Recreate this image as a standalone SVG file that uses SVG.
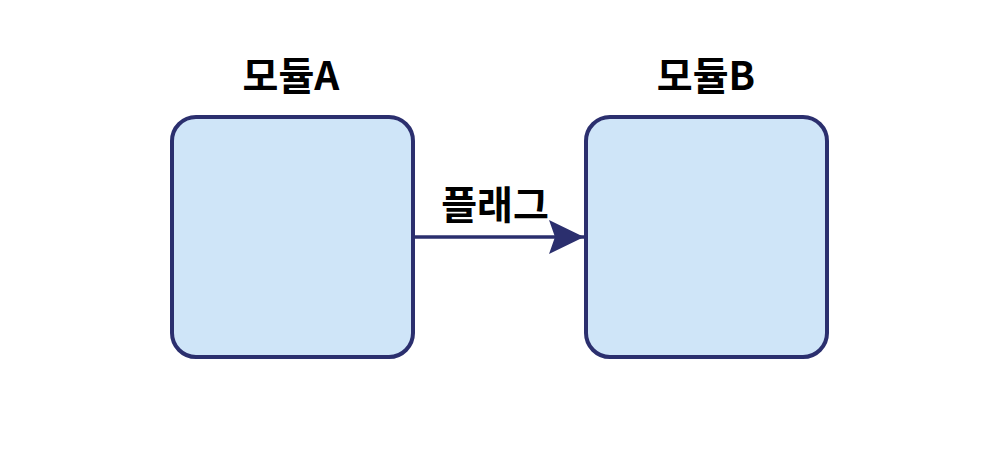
<svg xmlns="http://www.w3.org/2000/svg" width="1000" height="452" viewBox="0 0 1000 452">
<style>
.box{fill:#cfe5f8;stroke:#2b2f6e;stroke-width:4}
.t{font-family:"Noto Sans CJK KR","Noto Sans",sans-serif;font-weight:bold;fill:#000;text-anchor:middle}
.edge{stroke:#2b2f6e;stroke-width:3.5;fill:none}
</style>
<defs>
<marker id="ah" markerUnits="userSpaceOnUse" markerWidth="40" markerHeight="40" refX="35" refY="17" orient="auto">
<path d="M0,0 L35,17 L0,34 L6,17 Z" fill="#2b2f6e"/>
</marker>
</defs>
<rect width="1000" height="452" fill="#fff"/>
<g id="connectors">
<line class="edge" x1="413" y1="237" x2="584" y2="237" marker-end="url(#ah)"/>
<text class="t" x="495" y="219" font-size="39">플래그</text>
</g>
<g id="moduleA">
<rect class="box" x="172" y="117" width="241" height="240" rx="24"/>
<text class="t" x="291" y="90" font-size="39">모듈A</text>
</g>
<g id="moduleB">
<rect class="box" x="586" y="117" width="241" height="240" rx="24"/>
<text class="t" x="706" y="90" font-size="39">모듈B</text>
</g>
</svg>
